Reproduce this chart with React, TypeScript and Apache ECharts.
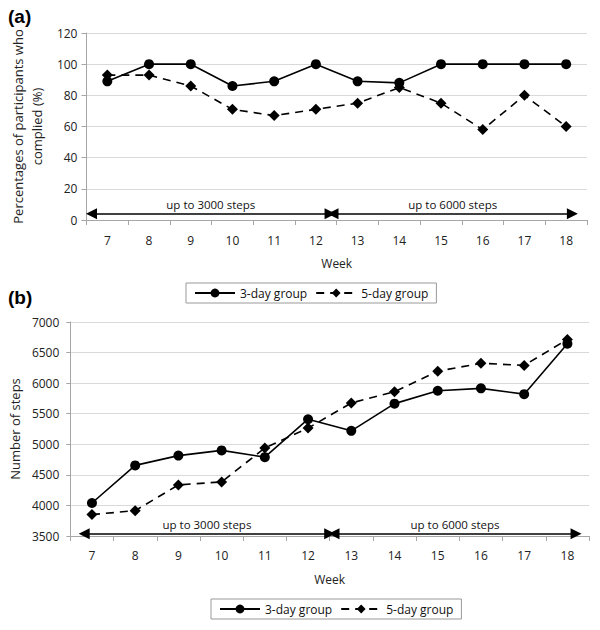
import React, { useEffect, useRef } from "react";
import * as echarts from "echarts";

const weeks = ["7", "8", "9", "10", "11", "12", "13", "14", "15", "16", "17", "18"];
const complianceThreeDay = [89, 100, 100, 86, 89, 100, 89, 88, 100, 100, 100, 100];
const complianceFiveDay = [93, 93, 86, 71, 67, 71, 75, 85, 75, 58, 80, 60];
const stepsThreeDay = [4040, 4655, 4815, 4900, 4790, 5410, 5220, 5665, 5875, 5915, 5820, 6645];
const stepsFiveDay = [3850, 3915, 4335, 4385, 4940, 5265, 5675, 5860, 6195, 6325, 6290, 6715];
const seriesNames = ["3-day group", "5-day group"];
const phaseLabels = ["up to 3000 steps", "up to 6000 steps"];
// arrow spans in week units (start, end) and height in axis units
const topArrows = [[6.62, 12.34], [12.41, 18.15]];
const topArrowY = 4;
const bottomArrows = [[6.82, 12.5], [12.6, 18.2]];
const bottomArrowY = 3535;

const FONT = "Open Sans";
const GRID_COLOR = "#d9d9d9";
const AXIS_COLOR = "#a6a6a6";

function catAxis(gridIndex: number, margin: number) {
  return {
    type: "category",
    gridIndex,
    data: weeks,
    boundaryGap: true,
    name: "Week",
    nameLocation: "middle",
    nameGap: 37,
    nameTextStyle: { fontFamily: FONT, fontSize: 12, color: "#222" },
    axisLine: { show: true, lineStyle: { color: AXIS_COLOR, width: 1 } },
    axisTick: { show: true, length: 5, alignWithLabel: false, lineStyle: { color: AXIS_COLOR } },
    axisLabel: { fontFamily: FONT, fontSize: 12, color: "#222", margin },
    splitLine: { show: false },
  };
}

function hiddenValueAxis(gridIndex: number) {
  return { type: "value", gridIndex, min: 6.5, max: 18.5, show: false };
}

function arrowSeries(xAxisIndex: number, yAxisIndex: number, spans: number[][], y: number) {
  return {
    type: "line",
    xAxisIndex,
    yAxisIndex,
    data: [],
    silent: true,
    markLine: {
      silent: true,
      symbol: ["triangle", "triangle"],
      symbolSize: [11, 11],
      lineStyle: { color: "#000", width: 1.5, type: "solid" },
      label: {
        show: true,
        position: "insideMiddleTop",
        distance: 3,
        color: "#111",
        fontFamily: FONT,
        fontSize: 11.5,
      },
      data: spans.map((s, i) => [
        { coord: [s[0], y], name: phaseLabels[i], label: { formatter: phaseLabels[i] } },
        { coord: [s[1], y] },
      ]),
    },
  };
}

function dataSeries(name: string, data: number[], x: number, yIdx: number, dashed: boolean) {
  return {
    name,
    type: "line",
    xAxisIndex: x,
    yAxisIndex: yIdx,
    data,
    symbol: dashed ? "diamond" : "circle",
    symbolSize: dashed ? 11 : 10,
    showAllSymbol: true,
    itemStyle: { color: "#000" },
    lineStyle: { color: "#000", width: 1.6, type: dashed ? [8, 6] : "solid" },
  };
}

function legend(left: number, top: number) {
  return {
    left,
    top,
    orient: "horizontal",
    data: seriesNames,
    borderColor: "#999",
    borderWidth: 1,
    padding: [4, 8, 4, 8],
    itemGap: 8,
    itemWidth: 40,
    itemHeight: 11,
    textStyle: { fontFamily: FONT, fontSize: 12, color: "#111" },
  };
}

const plain = (v: number) => String(v);

export default function App() {
  const ref = useRef<HTMLDivElement>(null);
  useEffect(() => {
    if (!ref.current) return;
    const chart = echarts.init(ref.current, undefined, { renderer: "svg" });
    const option = {
      animation: false,
      backgroundColor: "#fff",
      grid: [
        { left: 77, right: 13, top: 33, height: 187 },
        { left: 67, right: 11, top: 322, height: 214 },
      ],
      xAxis: [catAxis(0, 14), hiddenValueAxis(0), catAxis(1, 13), hiddenValueAxis(1)],
      yAxis: [
        {
          type: "value",
          gridIndex: 0,
          min: 0,
          max: 120,
          interval: 20,
          name: "Percentages of participants who\ncomplied (%)",
          nameLocation: "middle",
          nameGap: 30,
          nameTextStyle: { fontFamily: FONT, fontSize: 13, color: "#222", lineHeight: 19 },
          axisLine: { show: true, lineStyle: { color: AXIS_COLOR } },
          axisTick: { show: true, length: 5, lineStyle: { color: AXIS_COLOR } },
          axisLabel: { fontFamily: FONT, fontSize: 12, color: "#222", margin: 9, formatter: plain },
          splitLine: { show: true, lineStyle: { color: GRID_COLOR } },
        },
        {
          type: "value",
          gridIndex: 1,
          min: 3500,
          max: 7000,
          interval: 500,
          name: "Number of steps",
          nameLocation: "middle",
          nameGap: 43,
          nameTextStyle: { fontFamily: FONT, fontSize: 13, color: "#222" },
          axisLine: { show: true, lineStyle: { color: AXIS_COLOR } },
          axisTick: { show: true, length: 4, lineStyle: { color: AXIS_COLOR } },
          axisLabel: { fontFamily: FONT, fontSize: 12, color: "#222", margin: 11, formatter: plain },
          splitLine: { show: true, lineStyle: { color: GRID_COLOR } },
        },
      ],
      legend: [legend(186, 283), legend(211, 599)],
      series: [
        dataSeries(seriesNames[0], complianceThreeDay, 0, 0, false),
        dataSeries(seriesNames[1], complianceFiveDay, 0, 0, true),
        dataSeries(seriesNames[0], stepsThreeDay, 2, 1, false),
        dataSeries(seriesNames[1], stepsFiveDay, 2, 1, true),
        arrowSeries(1, 0, topArrows, topArrowY),
        arrowSeries(3, 1, bottomArrows, bottomArrowY),
      ],
      graphic: [
        { type: "text", left: 8, top: 7, style: { text: "(a)", font: "bold 19px 'Liberation Sans'", fill: "#000" } },
        { type: "text", left: 8, top: 288, style: { text: "(b)", font: "bold 19px 'Liberation Sans'", fill: "#000" } },
      ],
    };
    chart.setOption(option as any);
    return () => chart.dispose();
  }, []);
  return (
    <div
      ref={ref}
      style={{ position: "fixed", left: 0, top: 0, width: 600, height: 630, background: "#fff" }}
    />
  );
}
